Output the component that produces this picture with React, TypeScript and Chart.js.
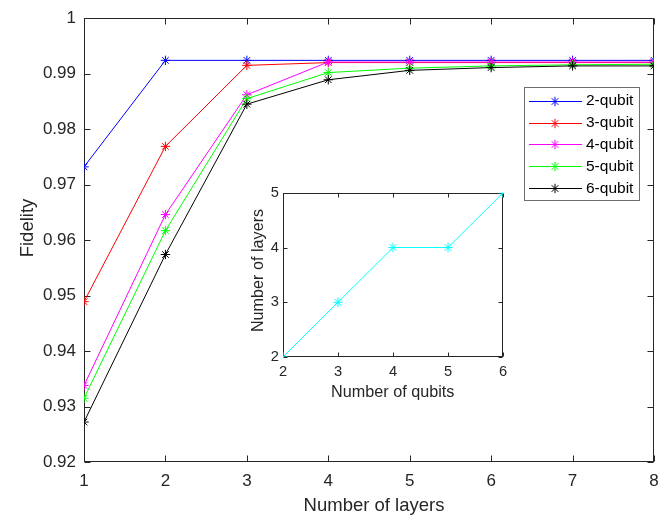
import React, { useEffect, useRef } from 'react';
import { Chart, registerables } from 'chart.js';

Chart.register(...registerables);

// ---------- data ----------
const layers = [1, 2, 3, 4, 5, 6, 7, 8];
const seriesNames = ['2-qubit', '3-qubit', '4-qubit', '5-qubit', '6-qubit'];
const fid2 = [0.9732, 0.9924, 0.9924, 0.9924, 0.9924, 0.9924, 0.9924, 0.9924];
const fid3 = [0.9489, 0.9769, 0.9915, 0.992, 0.992, 0.992, 0.992, 0.992];
const fid4 = [0.9338, 0.9646, 0.9862, 0.9921, 0.9921, 0.9921, 0.9921, 0.9921];
const fid5 = [0.9315, 0.9617, 0.9855, 0.9902, 0.991, 0.9914, 0.9916, 0.9917];
const fid6 = [0.9272, 0.9574, 0.9845, 0.9889, 0.9906, 0.9911, 0.9914, 0.9914];
const seriesColors = ['#0000ff', '#ff0000', '#ff00ff', '#00ff00', '#000000'];

const qubits = [2, 3, 4, 5, 6];
const layersNeeded = [2, 3, 4, 4, 5];
const insetColor = '#00ffff';

const mainXTitle = 'Number of layers';
const mainYTitle = 'Fidelity';
const insetXTitle = 'Number of qubits';
const insetYTitle = 'Number of layers';

// ---------- style ----------
const FONT = '"Liberation Sans", Arial, Helvetica, sans-serif';
const AX = '#262626';

const framePlugin = {
  id: 'frame',
  beforeDatasetsDraw(chart: any, _args: any, opts: any) {
    const { ctx, chartArea: a, scales } = chart;
    ctx.save();
    if (opts.fill) {
      ctx.fillStyle = '#ffffff';
      ctx.fillRect(a.left, a.top, a.right - a.left, a.bottom - a.top);
    }
    ctx.strokeStyle = AX;
    ctx.lineWidth = 1;
    const L = Math.round(a.left) + 0.5;
    const R = Math.round(a.right) - 0.5;
    const T = Math.round(a.top) + 0.5;
    const B = Math.round(a.bottom) - 0.5;
    ctx.strokeRect(L, T, R - L, B - T);
    const len = opts.tickLen || 5;
    ctx.beginPath();
    scales.x.ticks.forEach((t: any) => {
      const px = Math.round(scales.x.getPixelForValue(t.value)) + 0.5;
      ctx.moveTo(px, B);
      ctx.lineTo(px, B - len);
      ctx.moveTo(px, T);
      ctx.lineTo(px, T + len);
    });
    scales.y.ticks.forEach((t: any) => {
      const py = Math.round(scales.y.getPixelForValue(t.value)) + 0.5;
      ctx.moveTo(L, py);
      ctx.lineTo(L + len, py);
      ctx.moveTo(R, py);
      ctx.lineTo(R - len, py);
    });
    ctx.stroke();
    ctx.restore();
  },
  afterDraw(chart: any, _args: any, opts: any) {
    const { ctx } = chart;
    ctx.save();
    ctx.fillStyle = AX;
    ctx.font = `${opts.titleSize}px ${FONT}`;
    ctx.textAlign = 'center';
    ctx.textBaseline = 'middle';
    ctx.fillText(opts.xTitle, opts.xTitleX, opts.xTitleY);
    ctx.translate(opts.yTitleX, opts.yTitleY);
    ctx.rotate(-Math.PI / 2);
    ctx.fillText(opts.yTitle, 0, 0);
    ctx.restore();
  },
};

const legendPlugin = {
  id: 'boxLegend',
  afterDraw(chart: any) {
    const { ctx } = chart;
    ctx.save();
    const bx = 524, by = 87, bw = 115, bh = 113;
    ctx.fillStyle = '#ffffff';
    ctx.fillRect(bx, by, bw, bh);
    ctx.strokeStyle = '#6e6e6e';
    ctx.lineWidth = 1;
    ctx.strokeRect(bx + 0.5, by + 0.5, bw, bh);
    ctx.font = `15.5px ${FONT}`;
    ctx.textBaseline = 'middle';
    ctx.textAlign = 'left';
    seriesNames.forEach((name, i) => {
      const y = 100.7 + i * 21.8;
      const c = seriesColors[i];
      ctx.strokeStyle = c;
      ctx.lineWidth = 1;
      ctx.beginPath();
      ctx.moveTo(529, Math.round(y) + 0.5);
      ctx.lineTo(582, Math.round(y) + 0.5);
      ctx.stroke();
      ctx.beginPath();
      const cx = 555, cy = Math.round(y) + 0.5, r = 4.7;
      for (let k = 0; k < 4; k++) {
        const ang = (k * Math.PI) / 4;
        ctx.moveTo(cx - Math.cos(ang) * r, cy - Math.sin(ang) * r);
        ctx.lineTo(cx + Math.cos(ang) * r, cy + Math.sin(ang) * r);
      }
      ctx.stroke();
      ctx.fillStyle = '#000000';
      ctx.fillText(name, 586, y + 0.5);
    });
    ctx.restore();
  },
};

const fmt = (v: any) => String(Number(Number(v).toFixed(2)));

export default function App() {
  const mainRef = useRef<HTMLCanvasElement>(null);
  const insetRef = useRef<HTMLCanvasElement>(null);

  useEffect(() => {
    const all = [fid2, fid3, fid4, fid5, fid6];
    const datasets = all.map((vals, i) => ({
      label: seriesNames[i],
      data: layers.map((x, j) => ({ x, y: vals[j] })),
      borderColor: seriesColors[i],
      backgroundColor: seriesColors[i],
      borderWidth: 1,
      pointStyle: 'star',
      pointRadius: 4.7,
      pointBorderWidth: 1,
      pointBorderColor: seriesColors[i],
      tension: 0,
      order: all.length - 1 - i,
    }));
    const main = new Chart(mainRef.current!, {
      type: 'line',
      data: { datasets },
      plugins: [framePlugin, legendPlugin],
      options: {
        animation: false,
        responsive: false,
        devicePixelRatio: 1,
        layout: { padding: { top: 14, right: 17, left: 0, bottom: 0 } },
        plugins: {
          legend: { display: false },
          tooltip: { enabled: false },
          frame: {
            tickLen: 6,
            titleSize: 18.5,
            xTitle: mainXTitle,
            yTitle: mainYTitle,
            xTitleX: 374,
            xTitleY: 506,
            yTitleX: 28,
            yTitleY: 228,
          },
        } as any,
        scales: {
          x: {
            type: 'linear',
            min: 1,
            max: 8,
            grid: { display: false, drawTicks: false },
            border: { display: false },
            ticks: {
              stepSize: 1,
              autoSkip: false,
              maxRotation: 0,
              padding: 9,
              color: AX,
              font: { family: FONT, size: 17 },
            },
            afterFit: (s: any) => { s.height = 56; },
          },
          y: {
            type: 'linear',
            min: 0.92,
            max: 1,
            grid: { display: false, drawTicks: false },
            border: { display: false },
            ticks: {
              stepSize: 0.01,
              autoSkip: false,
              padding: 8,
              color: AX,
              font: { family: FONT, size: 17 },
              callback: (v: any) => fmt(v),
            },
            afterFit: (s: any) => { s.width = 84; },
          },
        },
      } as any,
    });

    const inset = new Chart(insetRef.current!, {
      type: 'line',
      data: {
        datasets: [
          {
            label: 'layers',
            data: qubits.map((x, j) => ({ x, y: layersNeeded[j] })),
            borderColor: insetColor,
            backgroundColor: insetColor,
            borderWidth: 1,
            pointStyle: 'star',
            pointRadius: 4.7,
            pointBorderWidth: 1,
            tension: 0,
          },
        ],
      },
      plugins: [framePlugin],
      options: {
        animation: false,
        responsive: false,
        devicePixelRatio: 1,
        layout: { padding: { top: 12, right: 12, left: 0, bottom: 0 } },
        plugins: {
          legend: { display: false },
          tooltip: { enabled: false },
          frame: {
            fill: true,
            tickLen: 4,
            titleSize: 16.2,
            xTitle: insetXTitle,
            yTitle: insetYTitle,
            xTitleX: 157.7,
            xTitleY: 212.7,
            yTitleX: 23.3,
            yTitleY: 90.5,
          },
        } as any,
        scales: {
          x: {
            type: 'linear',
            min: 2,
            max: 6,
            grid: { display: false, drawTicks: false },
            border: { display: false },
            ticks: {
              stepSize: 1,
              autoSkip: false,
              maxRotation: 0,
              padding: 6,
              color: AX,
              font: { family: FONT, size: 14.7 },
            },
            afterFit: (s: any) => { s.height = 53; },
          },
          y: {
            type: 'linear',
            min: 2,
            max: 5,
            grid: { display: false, drawTicks: false },
            border: { display: false },
            ticks: {
              stepSize: 1,
              autoSkip: false,
              padding: 4,
              color: AX,
              font: { family: FONT, size: 14.7 },
            },
            afterFit: (s: any) => { s.width = 48; },
          },
        },
      } as any,
    });

    return () => {
      main.destroy();
      inset.destroy();
    };
  }, []);

  return (
    <div style={{ position: 'fixed', left: 0, top: 0, width: 671, height: 518, background: '#ffffff' }}>
      <canvas
        ref={mainRef}
        width={671}
        height={518}
        style={{ position: 'absolute', left: 0, top: 0, width: 671, height: 518 }}
      />
      <canvas
        ref={insetRef}
        width={280}
        height={230}
        style={{ position: 'absolute', left: 235, top: 180, width: 280, height: 230 }}
      />
    </div>
  );
}
